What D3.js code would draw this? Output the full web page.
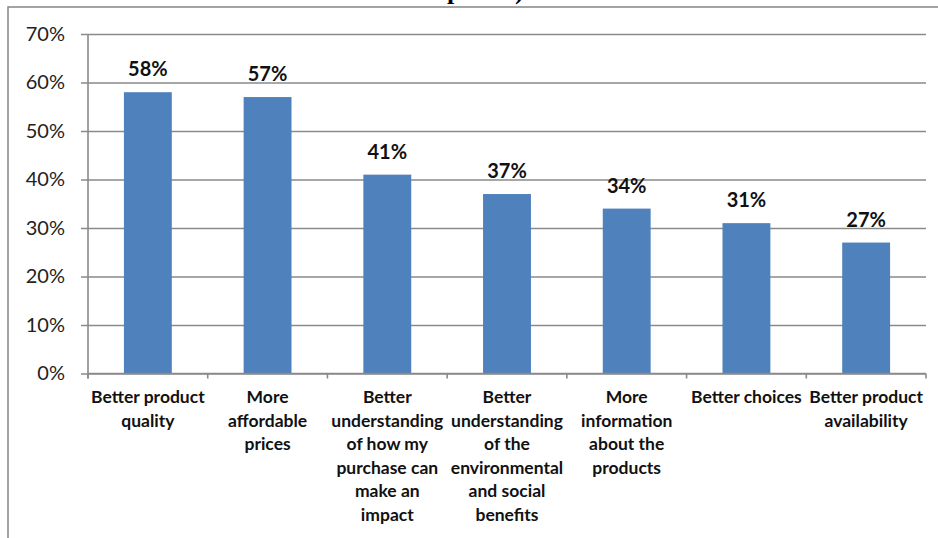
<!DOCTYPE html>
<html>
<head>
<meta charset="utf-8">
<script src="https://cdn.jsdelivr.net/npm/d3@7/dist/d3.min.js"></script>
<style>
  html, body { margin: 0; padding: 0; background: #fff; }
  svg { display: block; }
</style>
</head>
<body>
<svg id="chart" width="938" height="538"></svg>
<script>
// Survey answers (multi-select), share of respondents
const categories = [
  "Better product\nquality",
  "More\naffordable\nprices",
  "Better\nunderstanding\nof how my\npurchase can\nmake an\nimpact",
  "Better\nunderstanding\nof the\nenvironmental\nand social\nbenefits",
  "More\ninformation\nabout the\nproducts",
  "Better choices",
  "Better product\navailability"
];
const values = [0.58, 0.57, 0.41, 0.37, 0.34, 0.31, 0.27];
const yTicks = [0, 0.1, 0.2, 0.3, 0.4, 0.5, 0.6, 0.7];
const titleTail = "options)";

const svg = d3.select("#chart");
const W = 938, H = 538;
const plot = { left: 88, right: 926, top: 34, bottom: 373.5 };
const gridColor = "#8a8a8a";
const barColor = "#4f81bd";

// Title (runs off the top edge of the frame)
svg.append("text")
  .attr("x", 434).attr("y", -1)
  .attr("font-family", "Liberation Serif, serif")
  .attr("font-weight", "bold")
  .attr("font-size", 26)
  .attr("fill", "#000")
  .text(titleTail);

// Outer frame: top and left edges
svg.append("path")
  .attr("d", `M8,${H} L8,7 L${W},7`)
  .attr("fill", "none")
  .attr("stroke", "#858585")
  .attr("stroke-width", 1.5);

const x = d3.scaleBand()
  .domain(categories)
  .range([plot.left, plot.right])
  .paddingInner(0.6)
  .paddingOuter(0.3);

const y = d3.scaleLinear()
  .domain([0, 0.7])
  .range([plot.bottom, plot.top]);

// Horizontal gridlines + y axis labels
const yAxis = svg.append("g")
  .attr("transform", `translate(${plot.left},0)`)
  .call(d3.axisLeft(y)
    .tickValues(yTicks)
    .tickFormat(d3.format(".0%"))
    .tickSizeInner(-(plot.right - plot.left))
    .tickSizeOuter(0)
    .tickPadding(23));
yAxis.select(".domain").remove();
yAxis.selectAll(".tick line")
  .attr("x1", -7)
  .attr("stroke", gridColor)
  .attr("stroke-width", 1.6);
yAxis.selectAll(".tick text")
  .attr("font-family", "Lato, sans-serif")
  .attr("font-size", 20)
  .attr("fill", "#222");

// Vertical axis line
svg.append("line")
  .attr("x1", plot.left).attr("x2", plot.left)
  .attr("y1", y(0.7)).attr("y2", plot.bottom + 5)
  .attr("stroke", gridColor).attr("stroke-width", 1.6);

// Bars
svg.append("g").selectAll("rect")
  .data(values)
  .join("rect")
  .attr("x", (d, i) => x(categories[i]))
  .attr("y", d => y(d))
  .attr("width", x.bandwidth())
  .attr("height", d => y(0) - y(d))
  .attr("fill", barColor);

// Value labels
svg.append("g").selectAll("text")
  .data(values)
  .join("text")
  .attr("x", (d, i) => x(categories[i]) + x.bandwidth() / 2)
  .attr("y", d => y(d) - 16)
  .attr("text-anchor", "middle")
  .attr("font-family", "Lato, sans-serif")
  .attr("font-weight", "bold")
  .attr("font-size", 20)
  .attr("fill", "#111")
  .text(d => d3.format(".0%")(d));

// Category axis: baseline and boundary ticks
const step = x.step();
const xAxis = svg.append("g");
xAxis.append("line")
  .attr("x1", plot.left).attr("x2", plot.right)
  .attr("y1", plot.bottom).attr("y2", plot.bottom)
  .attr("stroke", gridColor).attr("stroke-width", 1.6);
xAxis.selectAll("line.tick")
  .data(d3.range(categories.length + 1))
  .join("line")
  .attr("class", "tick")
  .attr("x1", i => plot.left + i * step)
  .attr("x2", i => plot.left + i * step)
  .attr("y1", plot.bottom)
  .attr("y2", plot.bottom + 5)
  .attr("stroke", gridColor).attr("stroke-width", 1.6);

// Category labels (pre-wrapped lines)
const labels = svg.append("g").selectAll("text")
  .data(categories)
  .join("text")
  .attr("x", d => x(d) + x.bandwidth() / 2)
  .attr("y", 403)
  .attr("text-anchor", "middle")
  .attr("font-family", "Lato, sans-serif")
  .attr("font-weight", "bold")
  .attr("font-size", 17.5)
  .attr("fill", "#111");
labels.each(function(d) {
  const t = d3.select(this);
  d.split("\n").forEach((line, k) => {
    t.append("tspan")
      .attr("x", t.attr("x"))
      .attr("dy", k === 0 ? 0 : 23.6)
      .text(line);
  });
});
</script>
</body>
</html>
